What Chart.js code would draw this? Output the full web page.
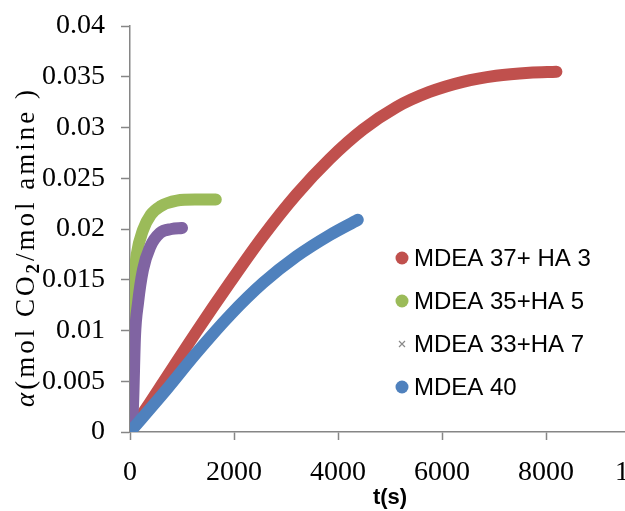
<!DOCTYPE html>
<html>
<head>
<meta charset="utf-8">
<script src="https://cdn.jsdelivr.net/npm/chart.js@4/dist/chart.umd.min.js"></script>
<style>
  html, body { margin: 0; padding: 0; background: #fff; overflow: hidden; }
  #wrap { width: 690px; height: 511px; }
</style>
</head>
<body>
<div id="wrap"><canvas id="myChart" width="690" height="511"></canvas></div>
<script>
// series labels
const seriesNames = ["MDEA 37+ HA 3", "MDEA 35+HA 5", "MDEA 33+HA 7", "MDEA 40"];

// t(s) and loading values
const redT = [0, 320, 640, 1280, 1920, 2560, 3200, 3840, 4480, 5120, 5760, 6400, 7040, 7680, 8200];
const redA = [0, 0.0024, 0.0049, 0.0099, 0.0147, 0.0193, 0.0234, 0.0269, 0.0298, 0.0320, 0.0335, 0.0345, 0.0351, 0.0354, 0.0355];

const greenT = [0, 25, 50, 80, 130, 250, 400, 576, 900, 1250, 1650];
const greenA = [0, 0.0060, 0.0120, 0.0150, 0.0175, 0.0199, 0.0214, 0.0222, 0.0228, 0.0229, 0.0229];

const purpleT = [0, 40, 60, 96, 154, 250, 384, 576, 800, 1000];
const purpleA = [0, 0.0010, 0.0029, 0.0094, 0.0127, 0.0160, 0.0182, 0.0196, 0.0200, 0.0201];

const blueT = [0, 640, 1280, 1920, 2560, 3200, 3840, 4380];
const blueA = [0, 0.0038, 0.0078, 0.0115, 0.0147, 0.0173, 0.0194, 0.0209];

// axis ticks
const xTicks = [0, 2000, 4000, 6000, 8000, 10000];
const yTicks = [0, 0.005, 0.01, 0.015, 0.02, 0.025, 0.03, 0.035, 0.04];

const toPoints = (ts, as) => ts.map((t, i) => ({ x: t, y: as[i] }));

function series(label, ts, as, color, order, marker) {
    return {
        label: label,
        data: toPoints(ts, as),
        borderColor: color,
        backgroundColor: color,
        borderWidth: 12,
        borderCapStyle: 'round',
        borderJoinStyle: 'round',
        pointRadius: 0,
        cubicInterpolationMode: 'monotone',
        order: order,
        marker: marker
    };
}

// y axis title with italic alpha and subscript 2
const yTitlePlugin = {
    id: 'yTitle',
    afterDraw(chart) {
        const ctx = chart.ctx;
        const parts = [
            { text: "α", font: "italic 27px 'Liberation Serif'", dy: 0 },
            { text: "(mol CO", font: "27px 'Liberation Serif'", dy: 0 },
            { text: "2", font: "bold 19px 'Liberation Serif'", dy: 7 },
            { text: "/mol amine )", font: "27px 'Liberation Serif'", dy: 0 }
        ];
        ctx.save();
        ctx.letterSpacing = '3px';
        let total = 0;
        parts.forEach(p => { ctx.font = p.font; p.w = ctx.measureText(p.text).width; total += p.w; });
        ctx.translate(27, 247);
        ctx.rotate(-Math.PI / 2);
        ctx.fillStyle = '#000';
        ctx.textBaseline = 'middle';
        let x = -total / 2;
        parts.forEach(p => {
            ctx.font = p.font;
            ctx.fillText(p.text, x, p.dy);
            x += p.w;
        });
        ctx.restore();
    }
};

// legend drawn inside plot area
const legendPlugin = {
    id: 'insideLegend',
    afterDraw(chart) {
        const ctx = chart.ctx;
        ctx.save();
        ctx.font = "24px 'Liberation Sans'";
        ctx.textBaseline = 'middle';
        chart.data.datasets.forEach((ds, i) => {
            const y = 258 + i * 43;
            if (ds.marker === 'cross') {
                ctx.strokeStyle = '#8a8a8a';
                ctx.lineWidth = 1.2;
                ctx.beginPath();
                ctx.moveTo(399, y - 3); ctx.lineTo(405, y + 3);
                ctx.moveTo(405, y - 3); ctx.lineTo(399, y + 3);
                ctx.stroke();
            } else {
                ctx.fillStyle = ds.borderColor;
                ctx.beginPath();
                ctx.arc(402, y, 6.5, 0, Math.PI * 2);
                ctx.fill();
            }
            ctx.fillStyle = '#000';
            ctx.fillText(ds.label, 414, y + 1);
        });
        ctx.restore();
    }
};

var canvas = document.getElementById('myChart');
var data = {
    datasets: [
        series(seriesNames[0], redT, redA, '#C0504D', 4, 'dot'),
        series(seriesNames[1], greenT, greenA, '#9BBB59', 3, 'dot'),
        series(seriesNames[2], purpleT, purpleA, '#8064A2', 2, 'cross'),
        series(seriesNames[3], blueT, blueA, '#4F81BD', 1, 'dot')
    ]
};

var option = {
    responsive: false,
    animation: false,
    layout: { padding: { left: 0, top: 26, right: 40, bottom: 0 } },
    plugins: { legend: { display: false }, tooltip: { enabled: false } },
    scales: {
        x: {
            type: 'linear',
            min: xTicks[0],
            max: xTicks[xTicks.length - 1],
            afterBuildTicks: s => { s.ticks = xTicks.map(v => ({ value: v })); },
            afterFit: s => { s.height = 79; s.paddingLeft = 0; s.paddingRight = 0; },
            border: { color: '#868686', width: 1.5 },
            grid: { drawOnChartArea: false, tickLength: 8, color: '#868686', tickWidth: 1.5 },
            ticks: {
                color: '#000',
                font: { family: "'Liberation Serif'", size: 28 },
                padding: 16,
                maxRotation: 0,
                callback: v => String(v)
            },
            title: {
                display: true,
                text: 't(s)',
                color: '#000',
                font: { family: "'Liberation Sans'", size: 22, weight: 'bold' },
                padding: { top: 0, bottom: 0 }
            }
        },
        y: {
            type: 'linear',
            min: yTicks[0],
            max: yTicks[yTicks.length - 1],
            afterBuildTicks: s => { s.ticks = yTicks.map(v => ({ value: v })); },
            afterFit: s => { s.width = 130; s.paddingTop = 0; s.paddingBottom = 0; },
            border: { color: '#868686', width: 1.5 },
            grid: { drawOnChartArea: false, tickLength: 9, color: '#868686', tickWidth: 1.5 },
            ticks: {
                color: '#000',
                font: { family: "'Liberation Serif'", size: 28 },
                padding: 16,
                callback: v => String(+v.toFixed(3))
            }
        }
    }
};

let myChart = new Chart(canvas, {
    type: 'line',
    data: data,
    options: option,
    plugins: [yTitlePlugin, legendPlugin]
});
</script>
</body>
</html>
